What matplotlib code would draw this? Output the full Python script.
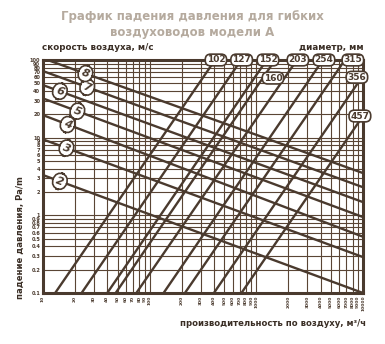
import numpy as np
import matplotlib.pyplot as plt
from matplotlib.ticker import FixedLocator, NullLocator, NullFormatter

# velocity lines (m/s): pressure drop at Q=10 and at Q=10000 m3/h
speeds = [2, 3, 4, 5, 6, 7, 8]
speed_dp_left = [3.3, 9.5, 19.5, 32, 47.5, 72, 105]
speed_dp_right = [0.1, 0.29, 0.53, 0.95, 1.48, 2.3, 3.5]
speed_label_q = [14.4, 16.6, 17, 21, 14.4, 26, 25]

# diameter lines (mm): flow at 0.1 Pa/m and at 100 Pa/m
diameters = [102, 127, 152, 160, 203, 254, 315, 356, 457]
diam_q_low = [13, 23, 40, 48, 75, 135, 214, 400, 725]
diam_q_high = [410, 720, 1250, 1500, 2400, 4200, 6760, 12600, 22900]
diam_label_q = [418, 728, 1285, 1432, 2454, 4305, 8035, 8770, 9350]
diam_label_dp = [100, 100, 100, 58.5, 100, 100, 100, 60, 19]

x_ticks = [10, 20, 30, 40, 50, 60, 70, 80, 90, 100, 200, 300, 400, 500, 600,
           700, 800, 900, 1000, 2000, 3000, 4000, 5000, 6000, 7000, 8000, 9000, 10000]
y_ticks = [0.1, 0.2, 0.3, 0.4, 0.5, 0.6, 0.7, 0.8, 0.9, 1, 2, 3, 4, 5, 6, 7, 8, 9,
           10, 20, 30, 40, 50, 60, 70, 80, 90, 100]

line_col = "#4a3a2e"
grid_col = "#5a4535"

fig = plt.figure(figsize=(3.85, 3.44), dpi=100)
ax = fig.add_axes([43 / 385, 51 / 344, 320 / 385, 233 / 344])
ax.set_xscale("log")
ax.set_yscale("log")
ax.set_xlim(10, 10000)
ax.set_ylim(0.1, 100)

ax.xaxis.set_major_locator(FixedLocator(x_ticks))
ax.yaxis.set_major_locator(FixedLocator(y_ticks))
ax.xaxis.set_minor_locator(NullLocator())
ax.yaxis.set_minor_locator(NullLocator())
ax.xaxis.set_minor_formatter(NullFormatter())
ax.yaxis.set_minor_formatter(NullFormatter())
ax.set_xticklabels([str(v) for v in x_ticks], rotation=90, fontsize=3.2,
                   fontweight="bold", color="#4a3a2e")
ax.set_yticklabels([("%g" % v) for v in y_ticks], fontsize=3.6,
                   fontweight="bold", color="#4a3a2e")
ax.tick_params(length=0, pad=2)
ax.grid(True, color=grid_col, linewidth=0.8)
for s in ax.spines.values():
    s.set_color(line_col)
    s.set_linewidth(2.2)

# velocity lines
for v, a, b, lq in zip(speeds, speed_dp_left, speed_dp_right, speed_label_q):
    ax.plot([10, 10000], [a, b], color=line_col, lw=1.7, solid_capstyle="butt")
    k = np.log10(b / a) / 3
    ly = a * (lq / 10) ** k
    ax.text(lq, ly, str(v), ha="center", va="center", rotation=-20,
            rotation_mode="anchor", fontsize=8, fontweight="bold", style="italic",
            color=line_col, zorder=5,
            bbox=dict(boxstyle="round,pad=0.3,rounding_size=0.8", fc="white",
                      ec=line_col, lw=1.2))

# diameter lines
for d, q0, q1, lq, ld in zip(diameters, diam_q_low, diam_q_high, diam_label_q, diam_label_dp):
    ax.plot([q0, q1], [0.1, 100], color=line_col, lw=1.7, solid_capstyle="butt")
    ax.text(lq, ld, str(d), ha="center", va="center", fontsize=6.5,
            fontweight="bold", color=line_col, zorder=6, clip_on=False,
            bbox=dict(boxstyle="round,pad=0.15,rounding_size=0.6", fc="white",
                      ec=line_col, lw=1.2))

fig.text(0.5, 0.972, "График падения давления для гибких\nвоздуховодов модели А",
         ha="center", va="top", fontsize=8.5, fontweight="bold", color="#b5aa9e",
         linespacing=1.3)
fig.text(42 / 385, 1 - 47 / 344, "скорость воздуха, м/с", ha="left", va="center",
         fontsize=6.3, fontweight="bold", color="#3a2e25")
fig.text(364 / 385, 1 - 47 / 344, "диаметр, мм", ha="right", va="center",
         fontsize=6.3, fontweight="bold", color="#3a2e25")
fig.text(20 / 385, 1 - 238 / 344, "падение давления, Pa/m", ha="center", va="center",
         rotation=90, fontsize=6.1, fontweight="bold", color="#3a2e25")
fig.text(366 / 385, 1 - 323 / 344, "производительность по воздуху, м³/ч",
         ha="right", va="center", fontsize=6.1, fontweight="bold", color="#3a2e25")

fig.savefig("out.png", dpi=100)
